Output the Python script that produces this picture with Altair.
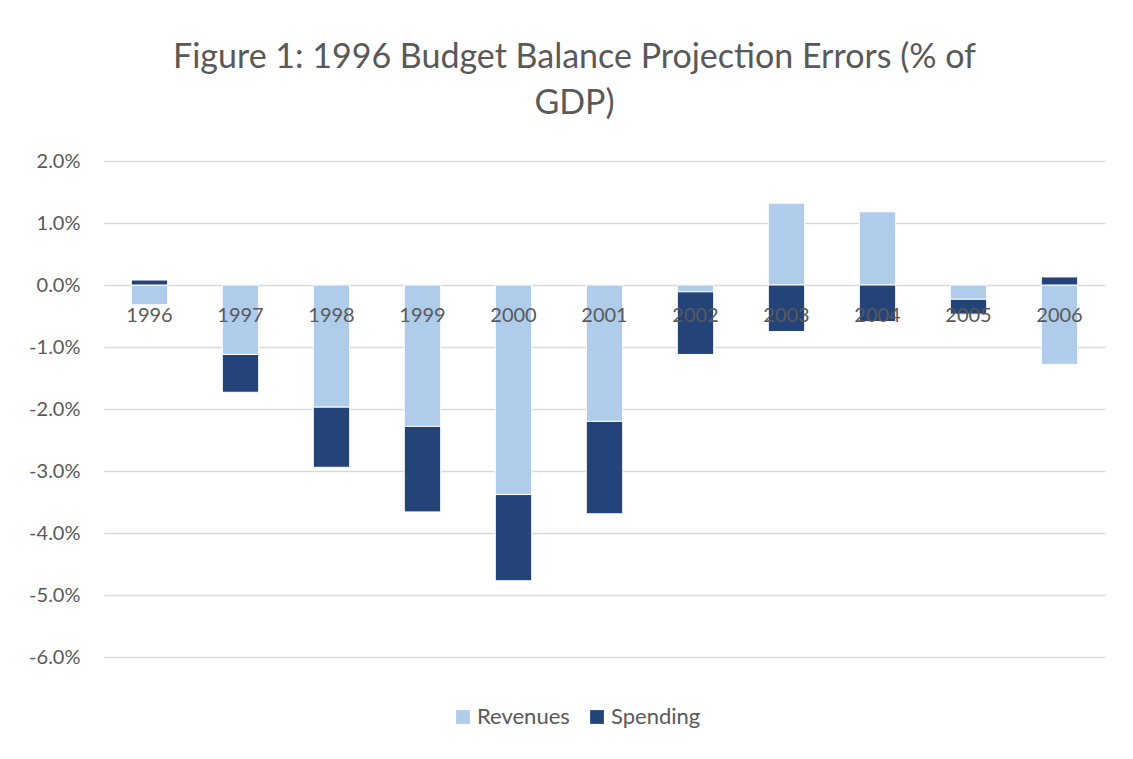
import altair as alt
import pandas as pd

years = ["1996", "1997", "1998", "1999", "2000", "2001", "2002", "2003", "2004", "2005", "2006"]
revenues = [-0.32, -1.12, -1.97, -2.28, -3.38, -2.20, -0.11, 1.32, 1.18, -0.23, -1.28]
spending = [0.08, -0.61, -0.97, -1.38, -1.39, -1.49, -1.01, -0.75, -0.59, -0.24, 0.13]
series = ["Revenues", "Spending"]
colors = ["#AFCDEA", "#244479"]

rows = []
for i, y in enumerate(years):
    rows.append({"year": y, "series": "Revenues", "order": 0, "value": revenues[i] / 100})
    rows.append({"year": y, "series": "Spending", "order": 1, "value": spending[i] / 100})
df = pd.DataFrame(rows)
labels_df = pd.DataFrame({"year": years, "zero": [0.0] * len(years)})

FONT = "Lato"
GREY = "#595959"

xscale = alt.Scale(domain=years, paddingInner=0.6, paddingOuter=0.3)
yscale = alt.Scale(domain=[-0.06, 0.02], nice=False)

bars = alt.Chart(df).mark_bar(stroke="white", strokeWidth=1).encode(
    x=alt.X("year:N", scale=xscale, axis=None),
    y=alt.Y("value:Q", scale=yscale, stack="zero",
            axis=alt.Axis(values=[0.02, 0.01, 0.0, -0.01, -0.02, -0.03, -0.04, -0.05, -0.06],
                          labelExpr="replace(format(datum.value*100, '.1f'), '\u2212', '-') + '%'",
                          title=None, domain=False, ticks=False, grid=True,
                          gridColor="#D9D9D9", gridWidth=1.5,
                          labelFont=FONT, labelFontSize=20, labelColor=GREY,
                          labelPadding=24)),
    color=alt.Color("series:N", scale=alt.Scale(domain=series, range=colors),
                    legend=alt.Legend(title=None, orient="none", direction="horizontal",
                                      legendX=348, legendY=545,
                                      symbolType="square", symbolSize=190,
                                      symbolStrokeWidth=0,
                                      labelFont=FONT, labelFontSize=22, labelColor=GREY,
                                      labelOffset=3, columnPadding=16)),
    order=alt.Order("order:Q"),
)

texts = alt.Chart(labels_df).mark_text(font=FONT, fontSize=20, color=GREY,
                                       baseline="middle", dy=31).encode(
    x=alt.X("year:N", scale=xscale, axis=None),
    y=alt.Y("zero:Q", scale=yscale),
    text="year:N",
)

chart = alt.layer(bars, texts).properties(
    width=1001,
    height=496,
    title=alt.TitleParams(
        ["Figure 1: 1996 Budget Balance Projection Errors (% of", "GDP)"],
        font=FONT, fontSize=34, fontWeight="normal", color=GREY,
        anchor="middle", dx=-30, offset=30, lineHeight=46,
    ),
    autosize=alt.AutoSizeParams(type="none"),
    padding={"left": 96, "top": 153, "right": 20, "bottom": 94},
).configure_view(stroke=None)

chart.save("out.html", embed_options={"renderer": "svg", "actions": False})
